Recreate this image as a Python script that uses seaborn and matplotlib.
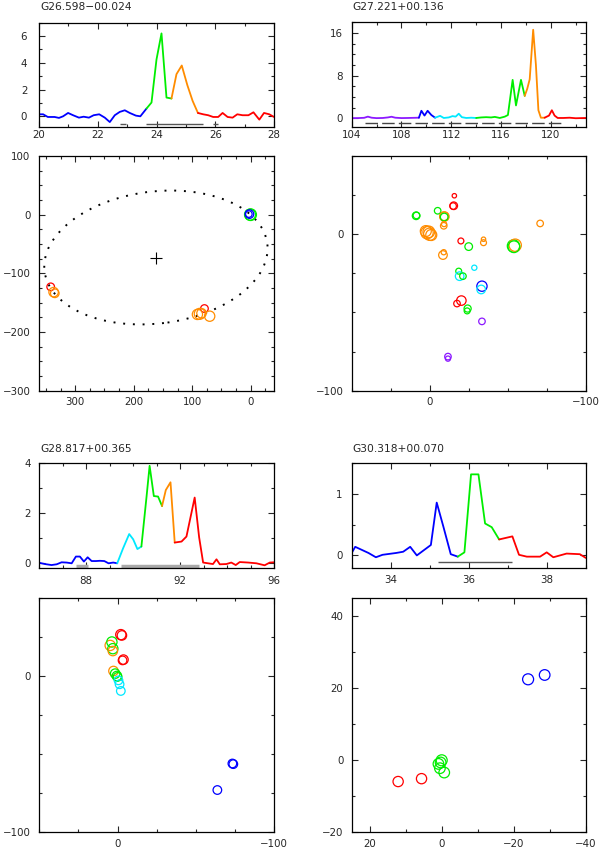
import numpy as np
import pandas as pd
import matplotlib
matplotlib.use("Agg")
import matplotlib.pyplot as plt
from matplotlib.patches import Ellipse
from matplotlib.ticker import MultipleLocator
import seaborn as sns

sns.set_style("ticks")
plt.rcParams["font.family"] = ["DejaVu Sans"]
plt.rcParams.update({
    "xtick.direction": "in", "ytick.direction": "in",
    "xtick.top": True, "ytick.right": True,
    "xtick.major.size": 4, "ytick.major.size": 4,
    "xtick.minor.size": 2.5, "ytick.minor.size": 2.5,
    "xtick.major.width": 0.8, "ytick.major.width": 0.8,
    "xtick.minor.width": 0.8, "ytick.minor.width": 0.8,
    "xtick.labelsize": 7.4, "ytick.labelsize": 7.4,
    "axes.linewidth": 0.9, "axes.edgecolor": "black",
})

colors = {"purple": "#8c1aff", "blue": "#0000ff", "cyan": "#00e8ff",
          "green": "#00ee00", "orange": "#ff8c00", "red": "#ff0000"}

# ---- G26.598-00.024 ----
tl_name = "G26.598\u221200.024"
tl_v = [20.0, 20.14, 20.3, 20.53, 20.68, 20.82, 20.99, 21.16, 21.36, 21.52, 21.7, 21.86,
        22.05, 22.24, 22.41, 22.58, 22.75, 22.92, 23.09, 23.3, 23.45, 23.66,
        23.83, 24.0, 24.17, 24.34, 24.51,
        24.68, 24.86, 25.05, 25.23, 25.41,
        25.59, 25.76, 25.93, 26.1, 26.25, 26.42, 26.59, 26.75, 26.93, 27.13, 27.3, 27.5,
        27.66, 27.84, 28.0]
tl_flux = [0.15, 0.15, -0.05, -0.05, -0.12, 0.0, 0.25, 0.08, -0.1, -0.03, -0.1, 0.08,
           0.15, -0.1, -0.43, 0.08, 0.33, 0.45, 0.25, 0.05, 0.0, 0.58,
           1.03, 4.25, 6.2, 1.4, 1.33,
           3.15, 3.8, 2.33, 1.15, 0.25,
           0.15, 0.08, -0.05, -0.05, 0.25, -0.05, -0.1, 0.15, 0.08, 0.08, 0.3, -0.25,
           0.25, 0.15, -0.05]
tl_breaks = [20.0, 23.66, 24.51, 25.41, 28.0]
tl_cols = ["blue", "green", "orange", "red"]
tl_range = [(22.75, 22.95), (23.64, 25.59), (25.93, 26.1)]
tl_spot_x = [0, 1, 2, 3, 79, 87, 91, 84, 70, 342, 337, 335]
tl_spot_y = [0, 0, 1, 1, -160, -169, -170, -168, -173, -123, -132, -134]
tl_spot_c = ["green", "green", "blue", "blue", "red", "orange", "orange", "orange",
             "orange", "red", "orange", "orange"]
tl_spot_amp = [9, 8, 5, 3, 4, 8, 7, 6, 7, 4, 6, 5]
tl_ring_center = (162, -73)
tl_ring_axes = (384, 225)
tl_ring_angle = -7

# ---- G27.221+00.136 ----
tr_name = "G27.221+00.136"
tr_v = [104.0, 104.5, 105.0, 105.3, 105.6, 106.0, 106.5, 106.9, 107.2, 107.5, 108.0, 108.5,
        109.0, 109.4,
        109.6, 109.85, 110.1, 110.4, 110.7,
        111.1, 111.4, 111.8, 112.1, 112.35, 112.6, 112.85, 113.2, 113.6, 114.0,
        114.4, 114.8, 115.2, 115.5, 115.9, 116.3, 116.55, 116.93, 117.2, 117.6, 117.9,
        118.1, 118.3, 118.58, 118.8, 119.0, 119.2, 119.5,
        119.85, 120.08, 120.3, 120.55, 121.0, 121.5, 122.0, 122.8]
tr_flux = [0.02, 0.03, 0.08, 0.3, 0.1, 0.02, 0.05, 0.15, 0.28, 0.1, 0.03, 0.05,
           0.08, 0.1,
           1.4, 0.5, 1.4, 0.6, 0.1,
           0.45, 0.05, 0.15, 0.4, 0.3, 0.85, 0.2, 0.05, 0.1, 0.05,
           0.15, 0.2, 0.15, 0.25, 0.05, 0.3, 0.6, 7.2, 2.4, 7.2, 4.2,
           5.5, 7.3, 16.6, 10.0, 1.5, 0.1, 0.1,
           0.5, 1.5, 0.5, 0.05, 0.05, 0.1, 0.0, 0.05]
tr_breaks = [104.0, 109.4, 110.7, 114.0, 117.9, 119.5, 122.8]
tr_cols = ["purple", "blue", "cyan", "green", "orange", "red"]
tr_range = [(105.1, 121.0)]
tr_spot_x = [-15.8, -15.4, -15, -5.1, 8.7, 8.5, -9.4, -9.2, -9.3, -9, -9.2,
             1.7, 0, 0.6, -1, 2.5, -70.8, -20, -34.5, -34.5, -25,
             -53.7, -54.8, -54, -8.5, -9, -28.6, -18.6, -19.2, -21.3,
             -33.5, -33, -20.3, -17.5, -24.3, -24, -33.5, -11.7, -11.7]
tr_spot_y = [24.6, 18.2, 18, 15, 11.8, 12, 11.3, 11.5, 11.0, 5.4, 6.5,
             1, 0, 1.5, -0.5, 2, 6.9, -4.3, -3.2, -5.4, -7.9,
             -7.5, -7, -8, -13.3, -11.5, -21.4, -23.6, -26.8, -26.8,
             -33.2, -35.3, -42.4, -44.3, -47.5, -49, -55.7, -78.2, -79.5]
tr_spot_c = ["red", "red", "red", "green", "green", "green", "orange", "orange", "green",
             "orange", "orange", "orange", "orange", "orange", "orange", "orange", "orange",
             "red", "orange", "orange", "green", "green", "orange", "green", "orange",
             "orange", "cyan", "green", "cyan", "green", "blue", "cyan", "red", "red",
             "green", "green", "purple", "purple", "purple"]
tr_spot_amp = [1.5, 4, 3, 3, 4, 3, 6, 5, 4, 3, 2,
               10, 10, 9, 8, 8, 3, 2.5, 1.5, 2.5, 4,
               10, 10, 9, 5, 2, 2, 2.5, 5, 3,
               7, 5, 6, 3, 3.5, 2.5, 3, 3, 2]

# ---- G28.817+00.365 ----
bl_name = "G28.817+00.365"
bl_v = [86.0, 86.24, 86.52, 86.74, 86.95, 87.16, 87.38, 87.56, 87.73, 87.9, 88.06, 88.23,
        88.41, 88.58, 88.77, 88.95, 89.15, 89.32,
        89.57, 89.83, 90.0, 90.18, 90.35,
        90.57, 90.7, 90.88, 91.06, 91.23,
        91.39, 91.59, 91.77,
        92.06, 92.27, 92.62, 92.81, 92.98, 93.19, 93.4, 93.55, 93.69, 93.97, 94.18, 94.37,
        94.54, 94.9, 95.25, 95.6, 95.82, 96.0]
bl_flux = [0.02, -0.03, -0.07, -0.04, 0.04, 0.03, 0.0, 0.27, 0.27, 0.07, 0.24, 0.09,
           0.09, 0.1, 0.09, 0.0, 0.03, 0.0,
           0.6, 1.17, 0.96, 0.57, 0.67,
           2.67, 3.9, 2.69, 2.67, 2.29,
           2.93, 3.24, 0.83,
           0.87, 1.07, 2.63, 1.04, 0.03, 0.0, -0.03, 0.16, -0.04, -0.03, 0.03, -0.07,
           0.05, 0.03, 0.0, -0.08, 0.03, 0.04]
bl_breaks = [86.0, 89.32, 90.35, 91.23, 91.77, 96.0]
bl_cols = ["blue", "cyan", "green", "orange", "red"]
bl_range = [(87.57, 88.06), (89.5, 92.8)]
bl_spot_x = [-2.1, -2.8, 4.7, 3.6, 3, 3, -3.8, -3.2, 2.6, 1.5, 0.4, 0,
             -0.6, -1.3, -2.1, -73.4, -74, -63.8]
bl_spot_y = [26.7, 26.2, 19.8, 22, 17.7, 16.2, 10.7, 10.2, 3.4, 1.7, 0.2, -0.4,
             -2.6, -5.1, -9.4, -55.9, -56.3, -72.9]
bl_spot_c = ["red", "red", "orange", "green", "green", "orange", "red", "red",
             "orange", "green", "green", "green", "cyan", "cyan", "cyan",
             "blue", "blue", "blue"]
bl_spot_amp = [7, 6, 7, 7, 7, 6, 6, 5, 6, 6, 6, 5, 5, 5, 5, 5, 5, 5]

# ---- G30.318+00.070 ----
br_name = "G30.318+00.070"
br_v = [33.0, 33.09, 33.43, 33.62, 33.79, 34.14, 34.32, 34.5, 34.67, 35.03, 35.18, 35.35,
        35.54, 35.72,
        35.89, 36.06, 36.25, 36.42, 36.59, 36.78,
        37.12, 37.29, 37.49, 37.83, 38.0, 38.17, 38.51, 38.85, 39.0]
br_flux = [0.04, 0.14, 0.04, -0.03, 0.01, 0.04, 0.06, 0.14, 0.0, 0.17, 0.86, 0.47,
           0.02, -0.02,
           0.05, 1.32, 1.32, 0.52, 0.46, 0.26,
           0.31, 0.01, -0.02, -0.02, 0.05, -0.03, 0.03, 0.02, -0.04]
br_breaks = [33.0, 35.72, 36.78, 39.0]
br_cols = ["blue", "green", "red"]
br_range = [(35.2, 37.12)]
br_spot_x = [-24, -28.6, 0, 0.3, 0.9, 0.5, -0.7, 12.1, 5.6]
br_spot_y = [22.5, 23.7, 0, -0.6, -1, -2.2, -3.4, -5.9, -5.1]
br_spot_c = ["blue", "blue", "green", "green", "green", "green", "green", "red", "red"]
br_spot_amp = [8, 7.5, 8, 7.5, 7.5, 7.5, 7.5, 7, 7]

W, H = 602, 849
fig = plt.figure(figsize=(W / 100, H / 100), dpi=100)


def make_ax(l, t, r, b):
    return fig.add_axes([l / W, 1 - b / H, (r - l) / W, (b - t) / H])


def draw_spectrum(ax, v, f, breaks, cols, rng, rng_y, rng_style):
    v = np.asarray(v)
    f = np.asarray(f)
    parts = []
    for lo, hi, c in zip(breaks[:-1], breaks[1:], cols):
        m = (v >= lo) & (v <= hi)
        parts.append(pd.DataFrame({"v": v[m], "flux": f[m], "seg": c}))
    df = pd.concat(parts, ignore_index=True)
    sns.lineplot(data=df, x="v", y="flux", hue="seg", palette=colors, estimator=None,
                 sort=False, legend=False, lw=1.3, ax=ax)
    for lo, hi in rng:
        ax.hlines(rng_y, lo, hi, **rng_style)
    ax.set(xlabel="", ylabel="")


def draw_spots(ax, x, y, c, amp):
    df = pd.DataFrame({"x": x, "y": y, "c": c, "amp": amp})
    sns.scatterplot(data=df, x="x", y="y", hue="c", palette=colors, size="amp",
                    sizes=(6, 95), size_norm=(1, 12), legend=False, ax=ax, linewidth=0.9)
    pts = ax.collections[-1]
    pts.set_edgecolors(pts.get_facecolors())
    pts.set_facecolors("none")
    ax.set(xlabel="", ylabel="")


def set_ticks(ax, xmaj, xmin, ymaj, ymin, xpad, ypad):
    ax.xaxis.set_major_locator(MultipleLocator(xmaj))
    ax.xaxis.set_minor_locator(MultipleLocator(xmin))
    ax.yaxis.set_major_locator(MultipleLocator(ymaj))
    ax.yaxis.set_minor_locator(MultipleLocator(ymin))
    ax.tick_params(axis="x", which="both", pad=xpad)
    ax.tick_params(axis="y", which="both", pad=ypad)


thin = dict(color="#555555", lw=1.0)

# top left
ax = make_ax(39, 22.7, 274, 127)
draw_spectrum(ax, tl_v, tl_flux, tl_breaks, tl_cols, tl_range, -0.55, thin)
ax.set_xlim(20, 28)
ax.set_ylim(-0.8, 7)
set_ticks(ax, 2, 1, 2, 1, 2, 8.5)

ax = make_ax(39, 156, 274, 390.7)
ax.add_patch(Ellipse(tl_ring_center, tl_ring_axes[0], tl_ring_axes[1], angle=tl_ring_angle,
                     fill=False, color="black", lw=1.4, ls=(0, (1, 4))))
ax.plot(*tl_ring_center, marker="+", ms=9, mew=0.8, color="black")
draw_spots(ax, tl_spot_x, tl_spot_y, tl_spot_c, tl_spot_amp)
ax.set_xlim(362, -40)
ax.set_ylim(-300, 100)
set_ticks(ax, 100, 25, 100, 25, 4.5, 6)

# top right
ax = make_ax(351.7, 22.3, 585.7, 127.3)
draw_spectrum(ax, tr_v, tr_flux, tr_breaks, tr_cols, tr_range, -0.94,
              dict(color="#444444", lw=1.0, linestyles=(0, (9, 3))))
ax.set_xlim(104, 122.8)
ax.set_ylim(-1.7, 18)
set_ticks(ax, 4, 2, 8, 2, 2, 6.5)

ax = make_ax(351.7, 156, 585.7, 390.7)
draw_spots(ax, tr_spot_x, tr_spot_y, tr_spot_c, tr_spot_amp)
ax.set_xlim(50, -100)
ax.set_ylim(-100, 50)
set_ticks(ax, 100, 25, 100, 25, 4.5, 6)

# bottom left
ax = make_ax(39.3, 463.3, 274, 568.3)
draw_spectrum(ax, bl_v, bl_flux, bl_breaks, bl_cols, bl_range, -0.1,
              dict(color="#aaaaaa", lw=2.5))
ax.set_xlim(86, 96)
ax.set_ylim(-0.2, 4)
set_ticks(ax, 4, 1, 2, 1, 5.5, 6)

ax = make_ax(39.3, 598.3, 274, 832.3)
draw_spots(ax, bl_spot_x, bl_spot_y, bl_spot_c, bl_spot_amp)
ax.set_xlim(50, -100)
ax.set_ylim(-100, 50)
set_ticks(ax, 100, 25, 100, 25, 5, 6)

# bottom right
ax = make_ax(351.7, 463.3, 585.7, 567.7)
draw_spectrum(ax, br_v, br_flux, br_breaks, br_cols, br_range, -0.11, thin)
ax.set_xlim(33, 39)
ax.set_ylim(-0.2, 1.5)
set_ticks(ax, 2, 1, 1, 0.5, 5.5, 6.5)

ax = make_ax(351.7, 598.3, 585.7, 832.3)
draw_spots(ax, br_spot_x, br_spot_y, br_spot_c, br_spot_amp)
ax.set_xlim(25, -40)
ax.set_ylim(-20, 45)
set_ticks(ax, 20, 10, 20, 10, 5, 6)

for name, x, y in [(tl_name, 40, 10), (tr_name, 352, 10), (bl_name, 40, 451.5), (br_name, 352, 451.5)]:
    fig.text(x / W, 1 - y / H, name, fontsize=7.7, va="baseline", ha="left")

fig.savefig("out.png", dpi=100)
